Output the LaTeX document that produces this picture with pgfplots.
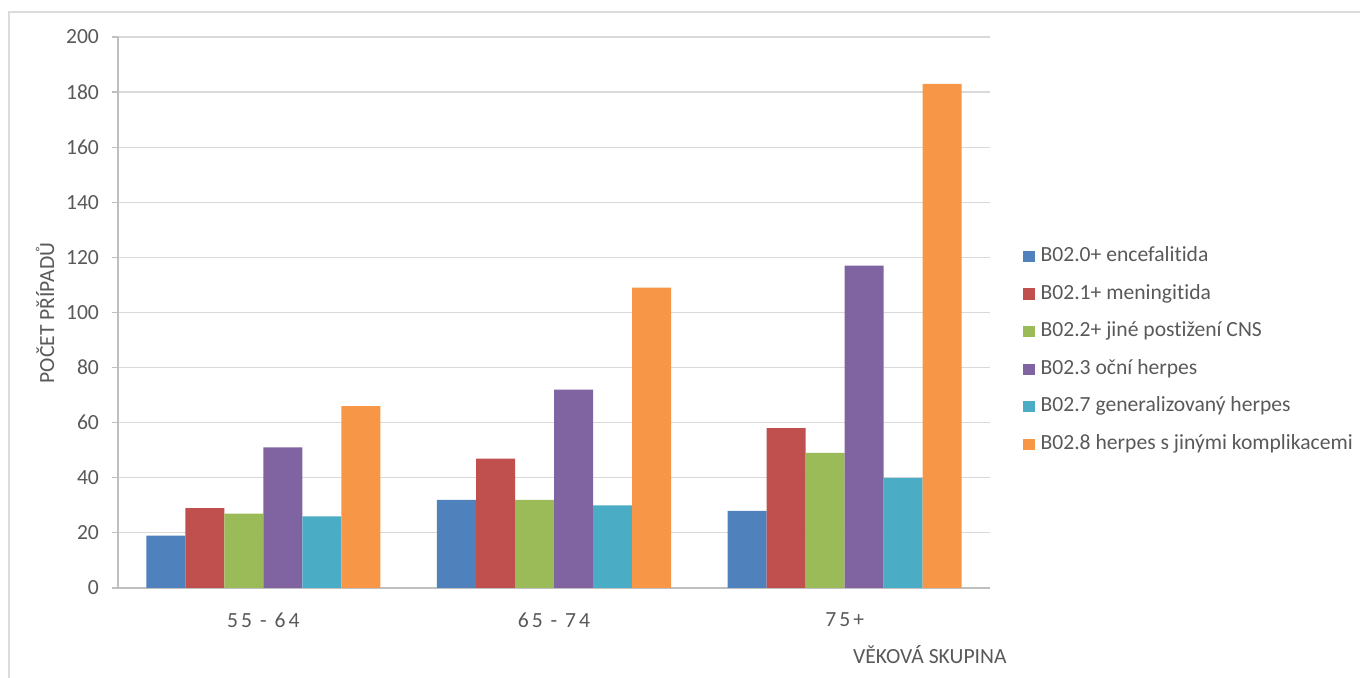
\documentclass[border=0pt]{standalone}
\usepackage{pgfplots}
\pgfplotsset{compat=1.18}
\usepackage{fontspec}
\setmainfont{Carlito}[Ligatures={NoCommon}]

\definecolor{cBlue}{HTML}{4F81BD}
\definecolor{cRed}{HTML}{C0504D}
\definecolor{cGreen}{HTML}{9BBB59}
\definecolor{cPurple}{HTML}{8064A2}
\definecolor{cCyan}{HTML}{4BACC6}
\definecolor{cOrange}{HTML}{F79646}
\definecolor{txt}{HTML}{595959}
\definecolor{gridc}{HTML}{D9D9D9}
\definecolor{axc}{HTML}{BFBFBF}

\newcommand{\chartfont}{\fontsize{10.8}{13}\selectfont}

\pgfplotsset{
  sqlegend/.style={legend image code/.code={\fill[##1] (0pt,-2.8pt) rectangle (5.6pt,2.8pt);}},
}

\begin{document}
\begin{tikzpicture}
\path[use as bounding box] (0,0) rectangle (680pt,339pt);
% light frame around the chart area
\draw[black!14, line width=0.8pt] (4.5pt,0pt) -- (4.5pt,333pt) -- (680pt,333pt);

\begin{axis}[
  at={(59pt,45pt)}, anchor=south west,
  width=436pt, height=275.5pt, scale only axis,
  ybar=0pt, bar width=19.5pt,
  xmin=-0.5, xmax=2.5, ymin=0, ymax=200,
  xtick={0,1,2}, xticklabels={55 - 64, 65 - 74, 75+},
  ytick distance=20,
  axis x line*=bottom, axis y line*=left,
  axis line style={-, axc, line width=0.6pt},
  ymajorgrids, grid style={gridc, line width=0.6pt},
  xtick style={draw=none},
  ytick style={axc, line width=0.6pt},
  tick align=outside, major tick length=3pt,
  /pgf/number format/assume math mode=true,
  yticklabel style={font=\chartfont, text=txt, xshift=-3pt},
  xticklabel style={font=\chartfont\addfontfeature{LetterSpace=14}, text=txt, yshift=-6pt},
  xlabel={VĚKOVÁ SKUPINA},
  xlabel style={font=\chartfont, text=txt, at={(axis description cs:0.931,-0.1216)}, anchor=center},
  ylabel={POČET PŘÍPADŮ},
  ylabel style={font=\chartfont, text=txt, at={(axis description cs:-0.0837,0.499)}, anchor=center, rotate=0},
  legend style={at={(axis description cs:1.031,0.626)}, anchor=north west, draw=none, fill=none,
    font=\chartfont, text=txt, row sep=9.8pt,
    nodes={inner ysep=0pt, inner xsep=3pt, text height=7pt, text depth=2pt}},
  legend cell align=left,
]
\addplot[fill=cBlue, draw=none, sqlegend] coordinates {(0,19) (1,32) (2,28)};
\addplot[fill=cRed, draw=none, sqlegend] coordinates {(0,29) (1,47) (2,58)};
\addplot[fill=cGreen, draw=none, sqlegend] coordinates {(0,27) (1,32) (2,49)};
\addplot[fill=cPurple, draw=none, sqlegend] coordinates {(0,51) (1,72) (2,117)};
\addplot[fill=cCyan, draw=none, sqlegend] coordinates {(0,26) (1,30) (2,40)};
\addplot[fill=cOrange, draw=none, sqlegend] coordinates {(0,66) (1,109) (2,183)};
\legend{B02.0+ encefalitida, B02.1+ meningitida, B02.2+ jiné postižení CNS, B02.3 oční herpes, B02.7 generalizovaný herpes, B02.8 herpes s jinými komplikacemi}
\end{axis}
\end{tikzpicture}
\end{document}
